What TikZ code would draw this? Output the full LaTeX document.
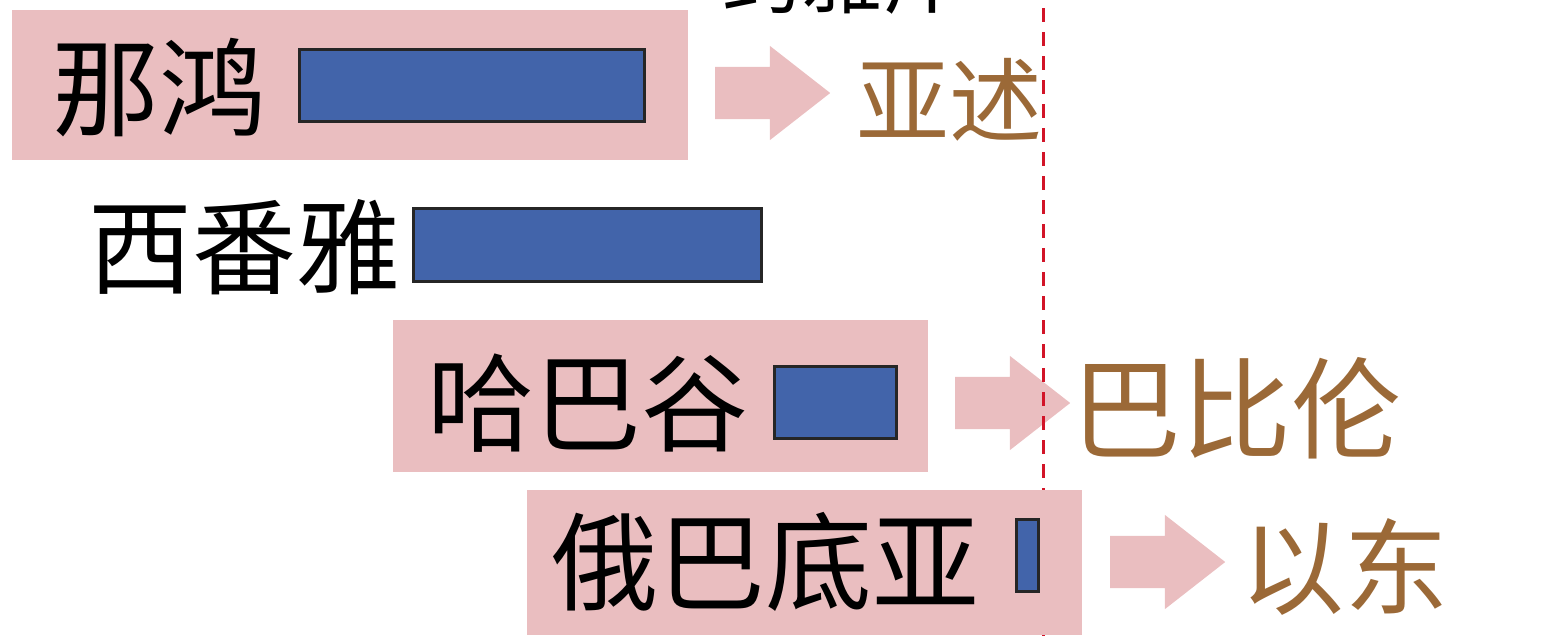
\documentclass[tikz,border=0pt]{standalone}
\usepackage{fontspec}
\newfontfamily\cjk{Noto Sans CJK SC}
\usetikzlibrary{positioning,shapes.arrows}
\definecolor{pinkbg}{RGB}{234,190,192}
\definecolor{barblue}{RGB}{66,100,170}
\definecolor{placebrown}{RGB}{155,105,55}
\definecolor{lineRed}{RGB}{210,20,40}

\begin{document}
\begin{tikzpicture}[x=1pt,y=-1pt,
  prophet/.style={inner sep=0pt,anchor=west,font=\cjk\fontsize{107}{107}\selectfont},
  place/.style={inner sep=0pt,anchor=west,text=placebrown},
  panel/.style={fill=pinkbg,inner sep=0pt,anchor=north west},
  bar/.style={fill=barblue,draw=black!85,line width=3pt,inner sep=0pt,anchor=north west},
  goes/.style={single arrow,fill=pinkbg,inner xsep=0pt,inner ysep=26pt,minimum height=115pt,
    single arrow head extend=21pt,single arrow tip angle=76,anchor=tail}]
\useasboundingbox (0,0) rectangle (1564,635);

% heading, cut off by the page edge
\node[font=\cjk\fontsize{80}{80}\selectfont,anchor=south west,inner sep=0pt] (era) at (722,14) {约雅斤};

% Nahum
\node[panel,minimum width=676pt,minimum height=150pt] (p1) at (12,10) {};
\node[prophet] (nahum) at (52,88) {那鸿};
\node[bar,minimum width=345pt,minimum height=72pt] (b1) at (298,48) {};
\node[goes] (a1) at (715,93) {};
\node[place,font=\cjk\fontsize{93}{93}\selectfont] (assyria) at (856,100) {亚述};

% Zephaniah
\node[prophet,font=\cjk\fontsize{104}{104}\selectfont] (zeph) at (88,247) {西番雅};
\node[bar,minimum width=348pt,minimum height=73pt] (b2) at (412,207) {};

% Habakkuk
\node[panel,minimum width=535pt,minimum height=152pt] (p3) at (393,320) {};
\node[prophet] (hab) at (427,403) {哈巴谷};
\node[bar,minimum width=122pt,minimum height=72pt] (b3) at (773,365) {};
\node[goes] (a3) at (955,403) {};
\node[place,font=\cjk\fontsize{110}{110}\selectfont] (babylon) at (1071,408) {巴比伦};

% dividing line
\coordinate (cut top) at (1043,8);
\coordinate (cut bot) at (1043,640);
\draw[lineRed,line width=3pt,dash pattern=on 14pt off 10pt] (cut top) -- (cut bot);

% Obadiah
\node[panel,minimum width=555pt,minimum height=145pt] (p4) at (527,490) {};
\node[prophet] (obad) at (551,562) {俄巴底亚};
\node[bar,minimum width=22pt,minimum height=72pt] (b4) at (1015,518) {};
\node[goes] (a4) at (1110,562) {};
\node[place,font=\cjk\fontsize{104}{104}\selectfont] (edom) at (1240,567) {以东};

\end{tikzpicture}
\end{document}
